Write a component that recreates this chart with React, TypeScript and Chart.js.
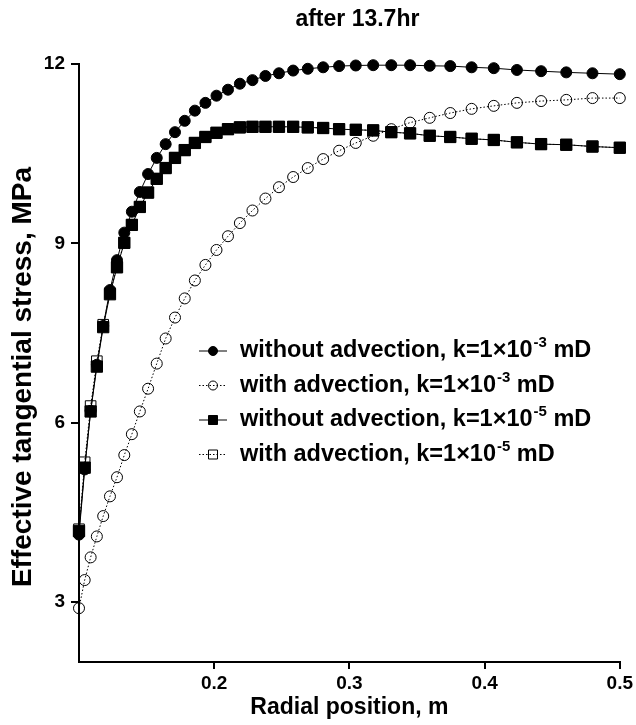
import React, { useEffect, useRef } from 'react';
import { Chart, registerables } from 'chart.js';

Chart.register(...registerables);

// ---- data ----
const RADIAL_POSITION = [
  0.1, 0.1042, 0.1086, 0.1132, 0.1179, 0.1229, 0.1281, 0.1335, 0.1391, 0.145,
  0.1511, 0.1575, 0.1641, 0.171, 0.1782, 0.1857, 0.1935, 0.2017, 0.2102, 0.219,
  0.2283, 0.2379, 0.2479, 0.2584, 0.2692, 0.2806, 0.2924, 0.3047, 0.3176, 0.331,
  0.3449, 0.3594, 0.3746, 0.3904, 0.4068, 0.4239, 0.4418, 0.4604, 0.4798, 0.5,
];

const WITHOUT_ADV_K3 = [
  4.13, 5.22, 6.2, 6.97, 7.62, 8.22, 8.72, 9.18, 9.53, 9.86,
  10.16, 10.43, 10.66, 10.86, 11.05, 11.22, 11.35, 11.47, 11.57, 11.67,
  11.73, 11.8, 11.845, 11.89, 11.92, 11.945, 11.965, 11.975, 11.98, 11.98,
  11.98, 11.97, 11.965, 11.945, 11.93, 11.9, 11.88, 11.86, 11.845, 11.83,
];

const WITH_ADV_K3 = [
  2.9, 3.37, 3.75, 4.1, 4.44, 4.77, 5.09, 5.46, 5.81, 6.19,
  6.57, 6.99, 7.41, 7.76, 8.08, 8.38, 8.64, 8.89, 9.12, 9.34,
  9.55, 9.75, 9.94, 10.11, 10.26, 10.41, 10.55, 10.68, 10.8, 10.91,
  11.02, 11.1, 11.18, 11.25, 11.3, 11.35, 11.38, 11.4, 11.43, 11.43,
];

const WITHOUT_ADV_K5 = [
  4.19, 5.25, 6.19, 6.94, 7.6, 8.15, 8.6, 9.01, 9.31, 9.61,
  9.85, 10.08, 10.26, 10.43, 10.56, 10.68, 10.78, 10.85, 10.91, 10.94,
  10.95, 10.95, 10.95, 10.95, 10.94, 10.93, 10.91, 10.9, 10.89, 10.86,
  10.84, 10.8, 10.78, 10.75, 10.73, 10.69, 10.66, 10.65, 10.62, 10.6,
];

const WITH_ADV_K5 = [
  4.22, 5.34, 6.28, 7.03, 7.64, 8.17, 8.61, 9.01, 9.31, 9.61,
  9.85, 10.08, 10.26, 10.43, 10.56, 10.68, 10.78, 10.85, 10.91, 10.94,
  10.95, 10.95, 10.95, 10.95, 10.94, 10.93, 10.91, 10.9, 10.89, 10.86,
  10.84, 10.8, 10.78, 10.75, 10.73, 10.69, 10.66, 10.65, 10.62, 10.6,
];

const X_TICKS = [0.2, 0.3, 0.4, 0.5];
const Y_TICKS = [3, 6, 9, 12];

const TITLE = 'after 13.7hr';
const X_TITLE = 'Radial position, m';
const Y_TITLE = 'Effective tangential stress, MPa';

const LEGEND_PRE = [
  'without advection, k=1×10',
  'with advection, k=1×10',
  'without advection, k=1×10',
  'with advection, k=1×10',
];
const LEGEND_SUP = ['-3', '-3', '-5', '-5'];
const LEGEND_POST = [' mD', ' mD', ' mD', ' mD'];

const FONT = '"Liberation Sans", Arial, Helvetica, sans-serif';

const textPlugin = {
  id: 'customTexts',
  afterDraw(chart: any) {
    const { ctx, chartArea } = chart;
    ctx.save();
    ctx.fillStyle = '#000';
    ctx.textAlign = 'center';
    ctx.textBaseline = 'middle';
    ctx.font = `bold 23px ${FONT}`;
    ctx.fillText(TITLE, (chartArea.left + chartArea.right) / 2 + 8, 20);
    // y axis title
    ctx.translate(23, (chartArea.top + chartArea.bottom) / 2 + 14);
    ctx.rotate(-Math.PI / 2);
    ctx.font = `bold 28px ${FONT}`;
    ctx.fillText(Y_TITLE, 0, 0);
    ctx.restore();
  },
};

const legendPlugin = {
  id: 'customLegend',
  afterDraw(chart: any) {
    const { ctx, chartArea } = chart;
    const lineStart = chartArea.left + 120;
    const lineEnd = lineStart + 28;
    const markX = (lineStart + lineEnd) / 2;
    const textX = lineEnd + 13;
    const top = chartArea.top + 287;
    const gap = 34.5;
    chart.data.datasets.forEach((ds: any, i: number) => {
      const y = top + i * gap;
      ctx.save();
      ctx.strokeStyle = '#000';
      ctx.lineWidth = 1;
      ctx.setLineDash(ds.borderDash || []);
      ctx.beginPath();
      ctx.moveTo(lineStart, y);
      ctx.lineTo(lineEnd, y);
      ctx.stroke();
      ctx.setLineDash([]);
      ctx.beginPath();
      if (ds.pointStyle === 'circle') {
        ctx.arc(markX, y, 4.5, 0, Math.PI * 2);
      } else {
        ctx.rect(markX - 4.5, y - 4.5, 9, 9);
      }
      if (ds.pointBackgroundColor !== 'rgba(0,0,0,0)') {
        ctx.fillStyle = '#000';
        ctx.fill();
      }
      ctx.stroke();

      ctx.fillStyle = '#000';
      ctx.textAlign = 'left';
      ctx.textBaseline = 'middle';
      ctx.font = `bold 23.5px ${FONT}`;
      let x = textX;
      ctx.fillText(LEGEND_PRE[i], x, y);
      x += ctx.measureText(LEGEND_PRE[i]).width + 1;
      ctx.font = `bold 15px ${FONT}`;
      ctx.fillText(LEGEND_SUP[i], x, y - 8);
      x += ctx.measureText(LEGEND_SUP[i]).width;
      ctx.font = `bold 23.5px ${FONT}`;
      ctx.fillText(LEGEND_POST[i], x, y);
      ctx.restore();
    });
  },
};

export default function App() {
  const canvasRef = useRef<HTMLCanvasElement | null>(null);

  useEffect(() => {
    document.body.style.margin = '0';
    const canvas = canvasRef.current;
    if (!canvas) return;

    const pts = (ys: number[]) => RADIAL_POSITION.map((x, i) => ({ x, y: ys[i] }));

    const chart = new Chart(canvas, {
      type: 'line',
      data: {
        datasets: [
          {
            label: 'without advection, k=1×10-3 mD',
            data: pts(WITHOUT_ADV_K3),
            borderColor: '#000',
            borderWidth: 1,
            pointStyle: 'circle',
            pointRadius: 5.5,
            pointBackgroundColor: '#000',
            pointBorderColor: '#000',
            pointBorderWidth: 1,
            tension: 0,
            clip: false,
          },
          {
            label: 'with advection, k=1×10-3 mD',
            data: pts(WITH_ADV_K3),
            borderColor: '#000',
            borderWidth: 1,
            borderDash: [1.5, 2],
            pointStyle: 'circle',
            pointRadius: 5.5,
            pointBackgroundColor: 'rgba(0,0,0,0)',
            pointBorderColor: '#000',
            pointBorderWidth: 1,
            tension: 0,
            clip: false,
          },
          {
            label: 'without advection, k=1×10-5 mD',
            data: pts(WITHOUT_ADV_K5),
            borderColor: '#000',
            borderWidth: 1,
            pointStyle: 'rect',
            pointRadius: 8,
            pointBackgroundColor: '#000',
            pointBorderColor: '#000',
            pointBorderWidth: 1,
            tension: 0,
            clip: false,
          },
          {
            label: 'with advection, k=1×10-5 mD',
            data: pts(WITH_ADV_K5),
            borderColor: '#000',
            borderWidth: 1,
            borderDash: [1.5, 2],
            pointStyle: 'rect',
            pointRadius: 7.5,
            pointBackgroundColor: 'rgba(0,0,0,0)',
            pointBorderColor: '#000',
            pointBorderWidth: 1,
            tension: 0,
            clip: false,
          },
        ] as any,
      },
      options: {
        animation: false,
        responsive: false,
        layout: { padding: { top: 64, right: 14, bottom: 0, left: 0 } },
        plugins: {
          legend: { display: false },
          title: { display: false },
          tooltip: { enabled: false },
        },
        scales: {
          x: {
            type: 'linear',
            min: 0.1,
            max: 0.5,
            afterBuildTicks: (s: any) => {
              s.ticks = X_TICKS.map((v) => ({ value: v }));
            },
            afterFit: (s: any) => {
              s.height = 63;
            },
            ticks: {
              color: '#000',
              font: { family: FONT, size: 19, weight: 'bold' },
              padding: 3,
              maxRotation: 0,
              callback: (v: any) => Number(v).toFixed(1),
            },
            grid: {
              display: true,
              drawOnChartArea: false,
              drawTicks: true,
              tickLength: 7,
              color: '#000',
              lineWidth: 2,
            },
            border: { display: true, color: '#000', width: 2 },
            title: {
              display: true,
              text: X_TITLE,
              color: '#000',
              font: { family: FONT, size: 23, weight: 'bold' },
              padding: { top: 0, bottom: 4 },
            },
          },
          y: {
            type: 'linear',
            min: 2,
            max: 12,
            afterBuildTicks: (s: any) => {
              s.ticks = Y_TICKS.map((v) => ({ value: v }));
            },
            afterFit: (s: any) => {
              s.width = 79;
            },
            ticks: {
              color: '#000',
              font: { family: FONT, size: 19, weight: 'bold' },
              padding: 6,
              callback: (v: any) => String(v),
            },
            grid: {
              display: true,
              drawOnChartArea: false,
              drawTicks: true,
              tickLength: 8,
              color: '#000',
              lineWidth: 2,
            },
            border: { display: true, color: '#000', width: 2 },
            title: { display: false },
          },
        },
      } as any,
      plugins: [textPlugin, legendPlugin],
    });

    return () => {
      chart.destroy();
    };
  }, []);

  return (
    <div style={{ width: 636, height: 725 }}>
      <canvas ref={canvasRef} width={636} height={725} style={{ display: 'block' }} />
    </div>
  );
}
